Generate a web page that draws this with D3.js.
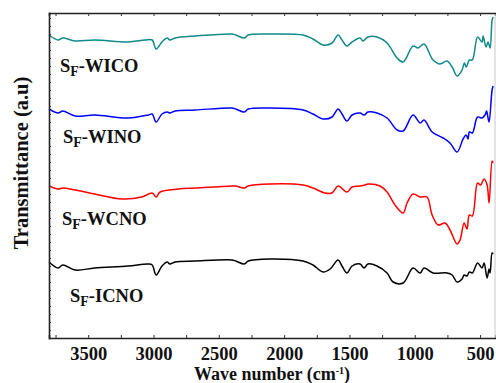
<!DOCTYPE html>
<html>
<head>
<meta charset="utf-8">
<script src="https://cdn.jsdelivr.net/npm/d3@7"></script>
<style>
  body { margin: 0; background: #fff; }
  text { font-family: "Liberation Serif", "Times New Roman", serif; font-weight: bold; }
</style>
</head>
<body>
<svg id="chart" width="496" height="383"></svg>
<script>
// FTIR spectra, offset for display (arbitrary transmittance units)
var wico = [[3800,303],[3730,298],[3695,300],[3600,297],[3450,298],[3195,296],[3065,298],[3010,298],[2980,289],[2935,296],[2895,300],[2875,298],[2835,300],[2680,302],[2400,304],[2370,303],[2305,300],[2275,303],[2110,304],[1855,303],[1779,299],[1702,293],[1633,295],[1587,303],[1557,298],[1519,292],[1480,296],[1419,300],[1396,297],[1358,301],[1289,301],[1212,295],[1135,280],[1089,276],[1013,292],[975,290],[929,294],[860,278],[806,274],[753,277],[714,271],[676,262],[638,268],[620,275],[605,271],[582,278],[559,278],[519,301],[485,296],[477,302],[454,291],[439,296],[423,290],[408,318],[400,321]];
var wino = [[3800,229],[3730,225],[3695,227],[3600,222],[3450,223],[3195,220],[3040,223],[3010,224],[2980,216],[2935,224],[2895,226],[2875,225],[2835,227],[2680,228],[2400,230],[2370,229],[2305,226],[2275,229],[2110,230],[1855,228],[1779,224],[1702,219],[1633,221],[1587,229],[1557,224],[1519,217],[1480,223],[1419,225],[1388,223],[1358,226],[1289,225],[1212,220],[1135,208],[1089,207],[1013,223],[959,215],[929,218],[867,206],[783,200],[730,195],[676,186],[630,199],[607,203],[592,199],[582,206],[559,205],[519,221],[485,220],[462,223],[450,227],[443,223],[431,216],[408,248],[400,252]];
var wcno = [[3800,152],[3730,149],[3695,150],[3600,148],[3450,144],[3240,139],[3090,141],[3010,145],[2980,141],[2950,146],[2810,149],[2680,150],[2400,152],[2370,152],[2305,150],[2275,152],[2110,154],[1855,153],[1779,150],[1687,145],[1633,145],[1587,152],[1519,146],[1480,151],[1419,152],[1380,153],[1358,154],[1266,152],[1212,146],[1151,133],[1089,125],[1059,135],[1013,144],[959,141],[906,141],[867,123],[821,113],[768,115],[730,108],[676,94],[653,98],[622,115],[600,109],[582,123],[559,122],[519,155],[496,153],[469,159],[446,153],[431,135],[408,177],[400,175]];
var icno = [[3800,76],[3730,70],[3695,73],[3600,68],[3450,70],[3195,72],[3040,74],[3010,73],[2980,63],[2935,72],[2895,76],[2875,74],[2835,76],[2680,77],[2400,78],[2370,77],[2305,74],[2275,77],[2110,79],[1855,77],[1779,73],[1702,66],[1648,69],[1587,78],[1557,72],[1519,65],[1480,72],[1419,74],[1388,70],[1358,74],[1289,72],[1212,65],[1166,56],[1089,55],[1013,70],[959,65],[929,70],[860,65],[753,65],[714,63],[676,56],[638,59],[622,63],[600,62],[582,66],[559,65],[519,75],[485,70],[469,75],[446,60],[431,69],[423,65],[408,85],[400,84]];

var seriesNames = ["WICO", "WINO", "WCNO", "ICNO"];
var seriesColors = ["#12898a", "#0000ff", "#ff0000", "#000000"];
var seriesData = [wico, wino, wcno, icno];
var xTicks = [3500, 3000, 2500, 2000, 1500, 1000, 500];

var svg = d3.select("#chart");
var margin = {left: 49, right: 0, top: 13, bottom: 45};
var W = 496, H = 383;

var x = d3.scaleLinear().domain([3800, 378]).range([margin.left, W - margin.right]);
var y = d3.scaleLinear().domain([0, 325]).range([H - margin.bottom, margin.top]);

// curves
var line = d3.line()
    .x(function(d) { return x(d[0]); })
    .y(function(d) { return y(d[1]); })
    .curve(d3.curveCatmullRom.alpha(0.5));

svg.append("g").selectAll("path")
    .data(seriesData)
    .enter().append("path")
    .attr("d", line)
    .attr("fill", "none")
    .attr("stroke", function(d, i) { return seriesColors[i]; })
    .attr("stroke-width", 1.5)
    .attr("stroke-linejoin", "round");

// frame
svg.append("line").attr("x1", W - 1).attr("x2", W - 1).attr("y1", margin.top).attr("y2", H - margin.bottom)
    .attr("stroke", "#c8c8c8").attr("stroke-width", 1);

var minor = d3.range(3750, 378, -250);

var bottom = svg.append("g").attr("transform", "translate(0," + (H - margin.bottom) + ")")
    .call(d3.axisBottom(x).tickValues(minor).tickSize(-3).tickFormat(""));
var labels = svg.append("g").attr("transform", "translate(0," + (H - margin.bottom) + ")")
    .call(d3.axisBottom(x).tickValues(xTicks).tickSize(0).tickPadding(9).tickFormat(d3.format("d")));
labels.select(".domain").remove();
var top = svg.append("g").attr("transform", "translate(0," + margin.top + ")")
    .call(d3.axisTop(x).tickValues(minor).tickSize(-3).tickFormat(""));
var left = svg.append("g").attr("transform", "translate(" + margin.left + ",0)")
    .call(d3.axisLeft(y).tickValues(d3.range(0, 325, 8)).tickSize(-2).tickFormat(""));

svg.selectAll(".domain").attr("stroke", "#222").attr("stroke-width", 1.6);
svg.selectAll(".tick line").attr("stroke", "#333");
labels.selectAll(".tick text")
    .attr("font-size", 18.5).attr("font-family", "Liberation Serif").attr("font-weight", "bold").attr("fill", "#111");

// series labels
var labelPos = [[60, 72], [63, 143], [62, 225], [70, 302]];
seriesNames.forEach(function(n, i) {
    var t = svg.append("text").attr("x", labelPos[i][0]).attr("y", labelPos[i][1])
        .attr("font-size", 18.5).attr("fill", "#111");
    t.append("tspan").text("S");
    t.append("tspan").text("F").attr("font-size", 14).attr("dy", 4);
    t.append("tspan").text("-" + n).attr("dy", -4);
});

// axis titles
var xt = svg.append("text").attr("x", 272).attr("y", 380).attr("text-anchor", "middle")
    .attr("font-size", 18).attr("fill", "#111");
xt.append("tspan").text("Wave number (cm");
xt.append("tspan").text("-1").attr("font-size", 10).attr("dy", -6);
xt.append("tspan").text(")").attr("dy", 6);

svg.append("text").attr("transform", "translate(28,163) rotate(-90)")
    .attr("text-anchor", "middle").attr("font-size", 20.5).attr("fill", "#111")
    .text("Transmittance (a.u)");
</script>
</body>
</html>
